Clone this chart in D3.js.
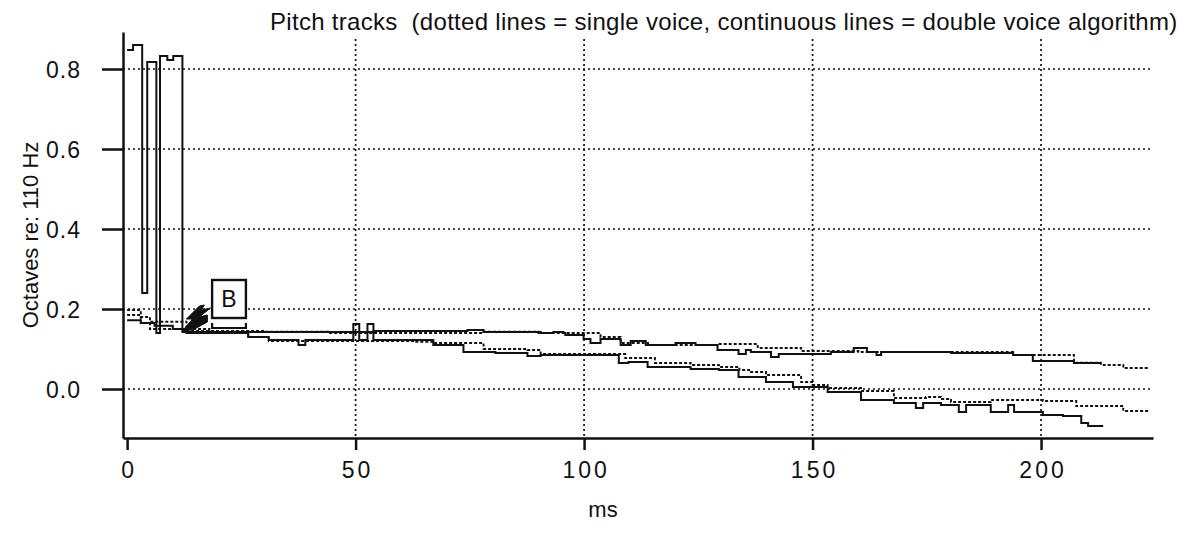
<!DOCTYPE html>
<html>
<head>
<meta charset="utf-8">
<script src="https://cdn.jsdelivr.net/npm/d3@7"></script>
<style>
    body { margin: 0; background: #fff; }
    svg { display: block; }
    text { font-family: "Liberation Sans", Arial, Helvetica, sans-serif; fill: #111; }
</style>
</head>
<body>
<div id="chart"></div>
<script>
const width = 1193;
const height = 537;

const xTicks = [0, 50, 100, 150, 200];
const yTicks = [0.0, 0.2, 0.4, 0.6, 0.8];

// [ms, octaves] change points, drawn as steps
const doubleVoiceUpper = [
    [0, 0.8475], [1.3, 0.86], [3.3, 0.24], [4.4, 0.8175], [6.4, 0.14], [7.2, 0.8325],
    [8.8, 0.8225], [10.1, 0.8325], [12.1, 0.1425], [26.5, 0.1425], [49.5, 0.1625],
    [50.8, 0.1425], [52.6, 0.1625], [53.9, 0.145], [74.5, 0.1475], [78, 0.1425],
    [90.5, 0.14], [93.3, 0.1425], [95.5, 0.14], [95.9, 0.135], [99.9, 0.125],
    [101.4, 0.115], [103.6, 0.125], [108, 0.11], [110.2, 0.12], [113.5, 0.11],
    [120, 0.115], [124.4, 0.11], [129.2, 0.0975], [133.8, 0.0875], [135.4, 0.0975],
    [136.5, 0.0925], [140.9, 0.08], [142.6, 0.0875], [154, 0.0925], [159, 0.1025],
    [161.9, 0.0925], [164, 0.085], [165, 0.0925], [180.3, 0.09], [193.9, 0.085],
    [198.2, 0.07], [207.2, 0.065], [213.1, 0.065]
];

const doubleVoiceLower = [
    [0, 0.172], [3, 0.165], [6, 0.158], [10, 0.15], [13, 0.14], [26.5, 0.13],
    [31, 0.1225], [37.5, 0.11], [39, 0.1225], [49.5, 0.1425], [50.8, 0.1225],
    [52.6, 0.1425], [53.9, 0.1225], [67, 0.11], [73.6, 0.0925], [80.6, 0.09],
    [87.6, 0.0825], [90.5, 0.085], [107.6, 0.065], [109.7, 0.0675], [113.9, 0.055],
    [123.3, 0.05], [129.5, 0.0475], [133.8, 0.03], [139.8, 0.0175], [145.7, 0.005],
    [153.3, -0.0075], [160.6, -0.0275], [167.8, -0.035], [172.6, -0.0475],
    [174.2, -0.035], [178.1, -0.04], [182, -0.0575], [183.6, -0.04], [189, -0.0575],
    [192.8, -0.04], [194.1, -0.0575], [200.4, -0.065], [204.8, -0.0675],
    [208.8, -0.085], [210.3, -0.0925], [213.6, -0.0925]
];

const singleVoiceUpper = [
    [0, 0.1975], [3, 0.18], [5, 0.168], [13, 0.15], [18, 0.145], [30, 0.143],
    [44, 0.14], [78, 0.143], [90, 0.14], [103.6, 0.13], [108, 0.115], [114, 0.11],
    [129.2, 0.1125], [138, 0.1025], [147.5, 0.095], [160, 0.0925], [193.9, 0.085],
    [207.2, 0.066], [213.1, 0.06], [218, 0.0525], [223.7, 0.0525]
];

const singleVoiceLower = [
    [0, 0.185], [3, 0.165], [5, 0.15], [14, 0.145], [26.5, 0.13], [31, 0.12],
    [63, 0.118], [67, 0.115], [78, 0.1], [87.6, 0.0975], [90.5, 0.0875],
    [109, 0.0775], [115.5, 0.065], [123.3, 0.06], [129.5, 0.055], [134, 0.0475],
    [136.5, 0.0425], [139.8, 0.035], [147.5, 0.0175], [150.1, 0.01], [153.3, 0.0025],
    [160.6, -0.005], [167.8, -0.0225], [174.8, -0.02], [178.1, -0.025],
    [180.3, -0.0325], [189, -0.0275], [200.4, -0.03], [207.7, -0.0425],
    [218, -0.055], [223.7, -0.055]
];

const titleText = "Pitch tracks  (dotted lines = single voice, continuous lines = double voice algorithm)";
const xLabel = "ms";
const yLabel = "Octaves re: 110 Hz";

const x = d3.scaleLinear().domain([-0.9, 224.5]).range([123, 1153]);
const y = d3.scaleLinear().domain([-0.1225, 0.8925]).range([438, 32]);

const svg = d3.select("#chart")
    .append("svg")
    .attr("width", width)
    .attr("height", height);

// grid
svg.append("g")
    .selectAll("line")
    .data(yTicks)
    .join("line")
    .attr("x1", x.range()[0])
    .attr("x2", x.range()[1])
    .attr("y1", d => y(d))
    .attr("y2", d => y(d))
    .attr("stroke", "#111")
    .attr("stroke-width", 1.7)
    .attr("stroke-dasharray", "2,3");

svg.append("g")
    .selectAll("line")
    .data(xTicks.filter(d => d > 0))
    .join("line")
    .attr("x1", d => x(d))
    .attr("x2", d => x(d))
    .attr("y1", y(0.875))
    .attr("y2", y.range()[0])
    .attr("stroke", "#111")
    .attr("stroke-width", 1.7)
    .attr("stroke-dasharray", "2,3");

// traces
const line = d3.line()
    .x(d => x(d[0]))
    .y(d => y(d[1]))
    .curve(d3.curveStepAfter);

[singleVoiceUpper, singleVoiceLower].forEach(series => {
    svg.append("path")
        .datum(series)
        .attr("d", line)
        .attr("fill", "none")
        .attr("stroke", "#111")
        .attr("stroke-width", 1.9)
        .attr("stroke-dasharray", "3,2");
});

[doubleVoiceUpper, doubleVoiceLower].forEach(series => {
    svg.append("path")
        .datum(series)
        .attr("d", line)
        .attr("fill", "none")
        .attr("stroke", "#111")
        .attr("stroke-width", 2);
});

// axes
const xAxis = d3.axisBottom(x)
    .tickValues(xTicks)
    .tickSize(12)
    .tickSizeOuter(0)
    .tickPadding(10)
    .tickFormat(d3.format("d"));

const gx = svg.append("g")
    .attr("transform", `translate(0, ${y.range()[0]})`)
    .call(xAxis);

const yAxis = d3.axisLeft(y)
    .tickValues(yTicks)
    .tickSize(21)
    .tickSizeOuter(0)
    .tickPadding(21)
    .tickFormat(d3.format(".1f"));

const gy = svg.append("g")
    .attr("transform", `translate(${x.range()[0]}, 0)`)
    .call(yAxis);

[gx, gy].forEach(g => {
    g.select(".domain").attr("stroke", "#111").attr("stroke-width", 2.5);
    g.selectAll(".tick line").attr("stroke", "#111").attr("stroke-width", 2.5);
    g.selectAll(".tick text")
        .attr("fill", "#111")
        .style("font-size", "23px")
        .style("font-family", "'Liberation Sans', Arial, sans-serif");
});
gx.selectAll(".tick text").style("letter-spacing", "3px").attr("dx", "1.5px").attr("dy", "0.8em");
gy.selectAll(".tick text").style("letter-spacing", "1px").attr("dy", "0.35em");

// marker B and bolt
const bx0 = x(18.6), bx1 = x(26), by0 = y(0.2725), by1 = y(0.1775);
svg.append("rect")
    .attr("x", bx0)
    .attr("y", by0)
    .attr("width", bx1 - bx0)
    .attr("height", by1 - by0)
    .attr("fill", "#fff")
    .attr("stroke", "#111")
    .attr("stroke-width", 2.4);
svg.append("text")
    .attr("x", (bx0 + bx1) / 2)
    .attr("y", (by0 + by1) / 2 + 8)
    .attr("text-anchor", "middle")
    .style("font-size", "23px")
    .text("B");
svg.append("path")
    .attr("d", `M${bx0},${by1 + 5} L${bx0},${by1 + 10} L${bx1},${by1 + 10} L${bx1},${by1 + 5}`)
    .attr("fill", "none")
    .attr("stroke", "#111")
    .attr("stroke-width", 2.2);

const ax = x(12.1), ay = y(0.145);
const bolt = [[0, 0], [10, -12], [4, -12], [17, -25], [22, -26], [19, -21],
    [28, -23], [17, -14], [25, -16], [25, -9], [14, -3], [2, 1]];
svg.append("polygon")
    .attr("points", bolt.map(p => `${ax + p[0]},${ay + p[1]}`).join(" "))
    .attr("fill", "#111")
    .attr("stroke", "#111")
    .attr("stroke-width", 1);

// labels
svg.append("text")
    .attr("x", 270)
    .attr("y", 30)
    .style("font-size", "24px")
    .style("letter-spacing", "0.3px")
    .style("white-space", "pre")
    .text(titleText);

svg.append("text")
    .attr("x", 603)
    .attr("y", 517)
    .attr("text-anchor", "middle")
    .style("font-size", "22px")
    .text(xLabel);

svg.append("text")
    .attr("transform", "translate(38, 235) rotate(-90)")
    .attr("text-anchor", "middle")
    .style("font-size", "22px")
    .text(yLabel);
</script>
</body>
</html>
